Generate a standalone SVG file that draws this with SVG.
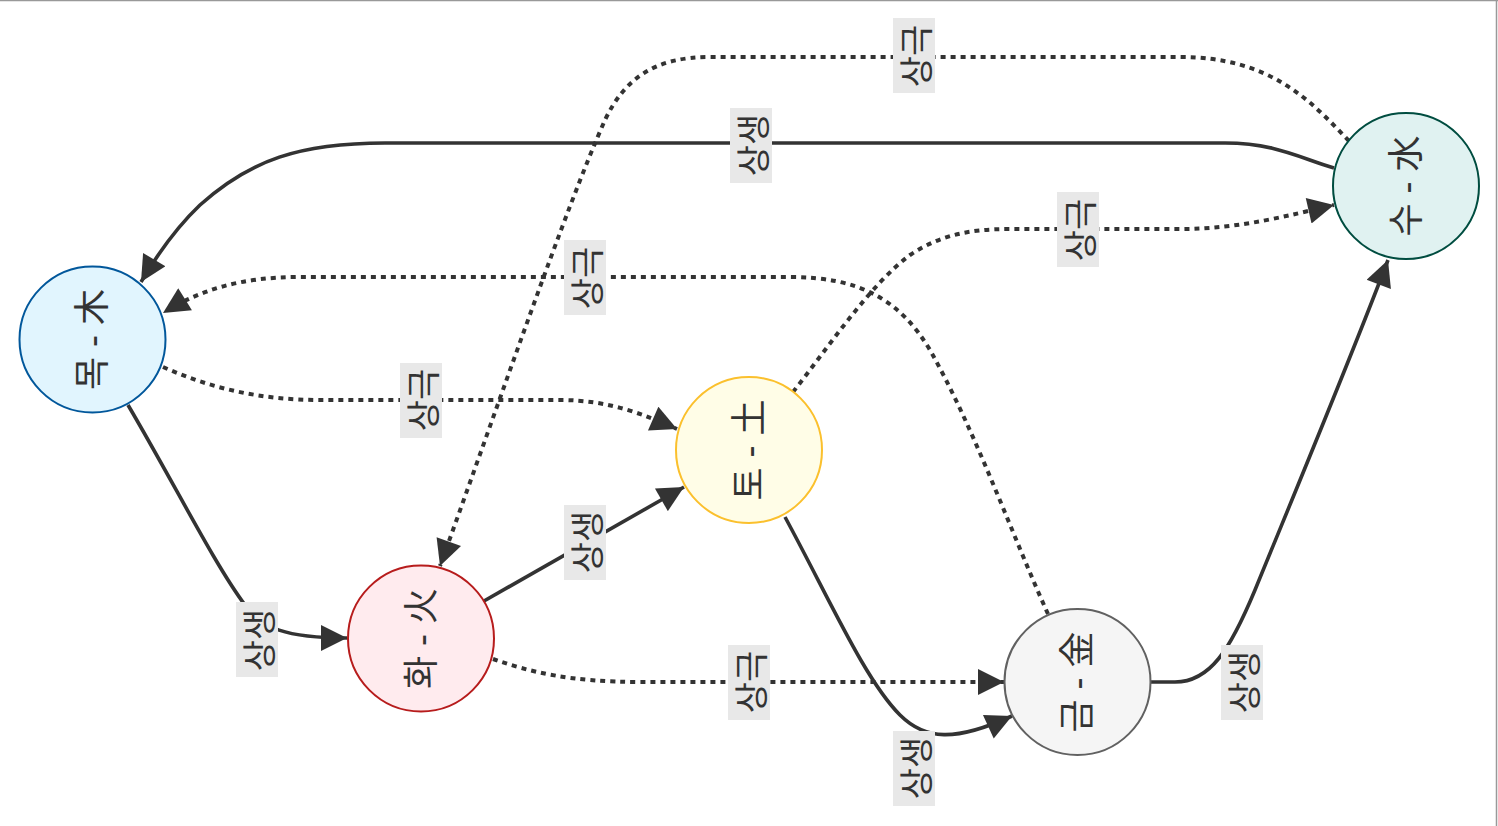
<svg xmlns="http://www.w3.org/2000/svg" width="1498" height="826" viewBox="0 0 1498 826">
<defs>
<marker id="arr" viewBox="0 0 10 10" refX="10" refY="5" markerWidth="28" markerHeight="26" markerUnits="userSpaceOnUse" orient="auto">
<path d="M0,0 L10,5 L0,10 z" fill="#333333"/>
</marker>
<style>
.edge{fill:none;stroke:#333333;stroke-width:3.6;marker-end:url(#arr)}
.dot{stroke-width:4;stroke-dasharray:5 5}
.lbg{fill:#e8e8e8}
.lt{font-family:"Noto Sans CJK KR","Noto Sans",sans-serif;font-size:34px;fill:#333333;text-anchor:middle;dominant-baseline:central}
.nt{font-family:"Liberation Sans","Noto Sans CJK KR",sans-serif;font-size:36px;fill:#333333;text-anchor:middle;dominant-baseline:central}
.n{stroke-width:2}
</style>
</defs>
<rect x="0" y="0" width="1498" height="826" fill="#ffffff"/>
<line x1="0" y1="0.5" x2="1498" y2="0.5" stroke="#999999" stroke-width="1.5"/>
<line x1="1496.5" y1="0" x2="1496.5" y2="826" stroke="#999999" stroke-width="1.5"/>

<g id="connectors">
<path class="edge" d="M1334,168 C1300,158 1275,143 1225,143 L385,143 C300,143 250,160 200,205 C180,224 160,250 141,282"/>
<path class="edge dot" d="M1349,141 C1310,100 1270,57 1180,57 L710,57 C655,57 625,78 605,120 C565,210 500,400 440,566"/>
<path class="edge dot" d="M793,392 C830,345 870,285 910,255 C940,235 970,229 1010,229 L1180,229 C1240,229 1290,215 1334,205"/>
<path class="edge dot" d="M1048,614 C1010,530 975,430 930,350 C900,300 860,277 790,277 L300,277 C240,277 200,290 163,313"/>
<path class="edge dot" d="M163,367 C210,388 260,400 320,400 L560,400 C610,400 645,415 677,429"/>
<path class="edge" d="M484,601 L684,487"/>
<path class="edge" d="M128,405 C175,485 215,565 245,605 C262,628 285,638 347,638"/>
<path class="edge dot" d="M493,659 C530,672 570,682 640,682 L1004,682"/>
<path class="edge" d="M785,517 C830,600 865,680 900,715 C925,740 955,742 1012,716"/>
<path class="edge" d="M1151,682 L1175,682 C1210,682 1230,650 1255,590 C1300,480 1350,360 1388,260"/>

<rect class="lbg" x="893" y="18" width="42" height="75"/><text class="lt" transform="translate(914,56) rotate(-90)">상극</text>
<rect class="lbg" x="730" y="108" width="42" height="75"/><text class="lt" transform="translate(751,145) rotate(-90)">상생</text>
<rect class="lbg" x="1057" y="192" width="42" height="75"/><text class="lt" transform="translate(1078,230) rotate(-90)">상극</text>
<rect class="lbg" x="564" y="240" width="42" height="75"/><text class="lt" transform="translate(585,278) rotate(-90)">상극</text>
<rect class="lbg" x="400" y="363" width="42" height="75"/><text class="lt" transform="translate(421,400) rotate(-90)">상극</text>
<rect class="lbg" x="564" y="505" width="42" height="75"/><text class="lt" transform="translate(585,542) rotate(-90)">상생</text>
<rect class="lbg" x="236" y="602" width="42" height="75"/><text class="lt" transform="translate(257,640) rotate(-90)">상생</text>
<rect class="lbg" x="728" y="645" width="42" height="75"/><text class="lt" transform="translate(749,682) rotate(-90)">상극</text>
<rect class="lbg" x="893" y="731" width="42" height="75"/><text class="lt" transform="translate(914,768) rotate(-90)">상생</text>
<rect class="lbg" x="1221" y="645" width="42" height="75"/><text class="lt" transform="translate(1242,682) rotate(-90)">상생</text>
</g>

<g id="wood">
<circle class="n" cx="92.5" cy="339.5" r="73" fill="#E1F5FE" stroke="#01579B"/>
<text class="nt" transform="translate(92.5,339.5) rotate(-90)">목 - 木</text>
</g>
<g id="fire">
<circle class="n" cx="421" cy="638.5" r="73" fill="#FFEBEE" stroke="#B71C1C"/>
<text class="nt" transform="translate(421,638.5) rotate(-90)">화 - 火</text>
</g>
<g id="earth">
<circle class="n" cx="749" cy="450" r="73" fill="#FFFDE7" stroke="#FBC02D"/>
<text class="nt" transform="translate(749,450) rotate(-90)">토 - 土</text>
</g>
<g id="metal">
<circle class="n" cx="1077.5" cy="682" r="73" fill="#F5F5F5" stroke="#616161"/>
<text class="nt" transform="translate(1077.5,682) rotate(-90)">금 - 金</text>
</g>
<g id="water">
<circle class="n" cx="1406" cy="186" r="73" fill="#E0F2F1" stroke="#004D40"/>
<text class="nt" transform="translate(1406,186) rotate(-90)">수 - 水</text>
</g>
</svg>
